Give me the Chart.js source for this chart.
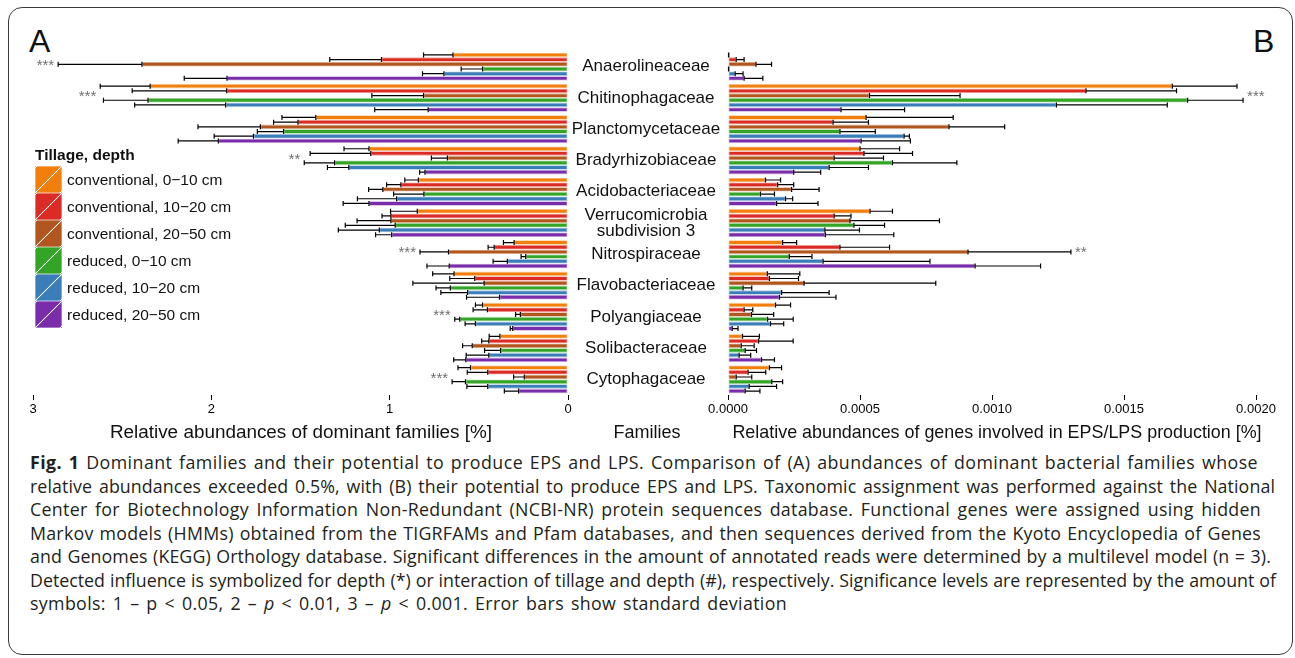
<!DOCTYPE html>
<html>
<head>
<meta charset="utf-8">
<script src="https://cdn.jsdelivr.net/npm/chart.js@4.4.1/dist/chart.umd.min.js"></script>
<style>
  body {
    margin: 0;
    width: 1295px;
    height: 658px;
    overflow: hidden;
    position: relative;
    background: #fff;
    font-family: "Liberation Sans", Arial, sans-serif;
    color: #111;
  }
  .frame {
    position: absolute;
    box-sizing: border-box;
    left: 8px; top: 7px; width: 1285px; height: 648px;
    border: 1.5px solid #3a3a3a;
    border-radius: 14px;
  }
  canvas { position: absolute; }
  .lbl {
    position: absolute;
    white-space: nowrap;
    transform: translate(-50%, -50%);
    font-size: 18px;
  }
  .panel { position: absolute; font-size: 32px; line-height: 32px; }
  #legend { position: absolute; left: 35px; top: 145px; }
  #legend .title { font-weight: bold; font-size: 15.5px; height: 21px; line-height: 20px; }
  .legend-row { height: 27px; display: flex; align-items: center; }
  .swatch { width: 27px; height: 27px; box-sizing: border-box; border: 1px solid rgba(255,255,255,0.35); }
  .legend-row span.txt { margin-left: 5px; font-size: 15.5px; }
  .caption {
    position: absolute;
    left: 30px; top: 451px;
    font-family: "Open Sans", sans-serif;
    font-size: 17.8px;
    line-height: 23.5px;
    color: #231f20;
    white-space: nowrap;
  }
  .caption div { text-align: justify; text-align-last: justify; }
</style>
</head>
<body>
<div class="frame"></div>
<div class="panel" style="left:29px; top:25px;">A</div>
<div class="panel" style="left:1253px; top:25px;">B</div>

<canvas id="left" width="580" height="400" style="left:0; top:40px;"></canvas>
<canvas id="right" width="735" height="400" style="left:560px; top:40px;"></canvas>

<div id="legend"><div class="title">Tillage, depth</div></div>

<div class="lbl" style="left:301px; top:432px; font-size:18.9px;">Relative abundances of dominant families [%]</div>
<div class="lbl" style="left:647px; top:432px;">Families</div>
<div class="lbl" style="left:997px; top:432px; font-size:17.9px;">Relative abundances of genes involved in EPS/LPS production [%]</div>

<div class="caption">
<div style="width:1228px; letter-spacing:0.45px;"><b>Fig. 1</b> Dominant families and their potential to produce EPS and LPS. Comparison of (A) abundances of dominant bacterial families whose</div>
<div style="width:1245px; letter-spacing:0.1px;">relative abundances exceeded 0.5%, with (B) their potential to produce EPS and LPS. Taxonomic assignment was performed against the National</div>
<div style="width:1231px; letter-spacing:0.3px;">Center for Biotechnology Information Non-Redundant (NCBI-NR) protein sequences database. Functional genes were assigned using hidden</div>
<div style="width:1231px; letter-spacing:0.25px;">Markov models (HMMs) obtained from the TIGRFAMs and Pfam databases, and then sequences derived from the Kyoto Encyclopedia of Genes</div>
<div style="width:1241px; letter-spacing:0.1px;">and Genomes (KEGG) Orthology database. Significant differences in the amount of annotated reads were determined by a multilevel model (n = 3).</div>
<div style="width:1246px;">Detected influence is symbolized for depth (*) or interaction of tillage and depth (#), respectively. Significance levels are represented by the amount of</div>
<div style="width:757px; letter-spacing:0.35px;">symbols: 1 – p &lt; 0.05, 2 – <i>p</i> &lt; 0.01, 3 – <i>p</i> &lt; 0.001. Error bars show standard deviation</div>
</div>

<script>
const families = [
  "Anaerolineaceae", "Chitinophagaceae", "Planctomycetaceae", "Bradyrhizobiaceae",
  "Acidobacteriaceae", ["Verrucomicrobia", "subdivision 3"], "Nitrospiraceae",
  "Flavobacteriaceae", "Polyangiaceae", "Solibacteraceae", "Cytophagaceae"
];

const seriesNames = [
  "conventional, 0\u221210 cm", "conventional, 10\u221220 cm", "conventional, 20\u221250 cm",
  "reduced, 0\u221210 cm", "reduced, 10\u221220 cm", "reduced, 20\u221250 cm"
];
const seriesColors = ["#f27f0c", "#dc2b24", "#b2561f", "#33a426", "#3b7db8", "#7a2daa"];
const seriesEdges = ["#f9c48e", "#f0a19c", "#ddb091", "#a6d89e", "#a9c6e0", "#c4a2dc"];

// (A) relative abundances of dominant families [%]
const abConv0_10  = [0.645, 2.343, 1.414, 1.116, 0.839, 0.845, 0.302, 0.639, 0.479, 0.382, 0.547];
const abConv10_20 = [1.046, 1.914, 1.514, 1.106, 0.937, 0.993, 0.414, 0.523, 0.452, 0.444, 0.450];
const abConv20_50 = [2.389, 0.810, 1.725, 0.676, 1.038, 0.993, 0.670, 0.470, 0.267, 0.537, 0.245];
const abRed0_10   = [0.479, 2.355, 1.595, 1.309, 0.808, 0.969, 0.237, 0.660, 0.607, 0.378, 0.575];
const abRed10_20  = [0.696, 1.920, 1.764, 1.229, 0.961, 1.058, 0.340, 0.563, 0.519, 0.444, 0.450];
const abRed20_50  = [1.912, 0.784, 1.961, 0.802, 1.116, 0.989, 0.666, 0.384, 0.310, 0.573, 0.277];

const sdAbConv0_10  = [0.165, 0.28, 0.19, 0.14, 0.076, 0.15, 0.06, 0.12, 0.04, 0.06, 0.07];
const sdAbConv10_20 = [0.29, 0.53, 0.137, 0.34, 0.08, 0.05, 0.034, 0.14, 0.08, 0.04, 0.115];
const sdAbConv20_50 = [0.47, 0.29, 0.35, 0.09, 0.08, 0.19, 0.16, 0.40, 0.027, 0.054, 0.06];
const sdAbRed0_10   = [0.12, 0.25, 0.147, 0.17, 0.17, 0.28, 0.026, 0.08, 0.028, 0.09, 0.075];
const sdAbRed10_20  = [0.12, 0.51, 0.22, 0.12, 0.22, 0.23, 0.08, 0.15, 0.058, 0.127, 0.117];
const sdAbRed20_50  = [0.24, 0.30, 0.225, 0.03, 0.145, 0.09, 0.125, 0.185, 0.014, 0.068, 0.08];

// (B) relative abundances of EPS/LPS genes [%]
const epsConv0_10  = [0.000002, 0.001683, 0.000523, 0.000500, 0.000142, 0.000538, 0.000207, 0.000149, 0.000180, 0.000055, 0.000157];
const epsConv10_20 = [0.000031, 0.001356, 0.000398, 0.000515, 0.000188, 0.000402, 0.000424, 0.000157, 0.000061, 0.000116, 0.000076];
const epsConv20_50 = [0.000106, 0.000536, 0.000837, 0.000402, 0.000241, 0.000462, 0.000909, 0.000288, 0.000089, 0.000050, 0.000031];
const epsRed0_10   = [0.000002, 0.001741, 0.000424, 0.000623, 0.000123, 0.000477, 0.000232, 0.000057, 0.000150, 0.000065, 0.000166];
const epsRed10_20  = [0.000027, 0.001244, 0.000667, 0.000383, 0.000218, 0.000367, 0.000360, 0.000203, 0.000161, 0.000042, 0.000080];
const epsRed20_50  = [0.000061, 0.000428, 0.000504, 0.000249, 0.000184, 0.000369, 0.000936, 0.000195, 0.000016, 0.000127, 0.000065];

const sdEpsConv0_10  = [0.000001, 0.000245, 0.000330, 0.000150, 0.000057, 0.000085, 0.000053, 0.000123, 0.000057, 0.000064, 0.000046];
const sdEpsConv10_20 = [0.000030, 0.000343, 0.000134, 0.000184, 0.000061, 0.000064, 0.000188, 0.000110, 0.000033, 0.000131, 0.000067];
const sdEpsConv20_50 = [0.000059, 0.000343, 0.000211, 0.000187, 0.000104, 0.000339, 0.000390, 0.000499, 0.000084, 0.000049, 0.000059];
const sdEpsRed0_10   = [0.000001, 0.000210, 0.000134, 0.000244, 0.000053, 0.000116, 0.000086, 0.000033, 0.000097, 0.000043, 0.000041];
const sdEpsRed10_20  = [0.000030, 0.000420, 0.000020, 0.000149, 0.000027, 0.000131, 0.000405, 0.000180, 0.000050, 0.000044, 0.000104];
const sdEpsRed20_50  = [0.000071, 0.000241, 0.000187, 0.000102, 0.000157, 0.000259, 0.000248, 0.000214, 0.000022, 0.000049, 0.000056];

// significance marks per family
const sigAbundance = ["***", "***", "", "**", "", "", "***", "", "***", "", "***"];
const sigEps       = ["", "***", "", "", "", "", "**", "", "", "", ""];

const xTicksLeft = [0, 1, 2, 3];
const xTicksRight = [0, 0.0005, 0.001, 0.0015, 0.002];

const FONT = "'Liberation Sans', Arial, sans-serif";

// error bars with caps on both ends
const errorBars = {
  id: "errorBars",
  afterDatasetsDraw(chart) {
    const ctx = chart.ctx;
    const xScale = chart.scales.x;
    ctx.save();
    ctx.strokeStyle = "#000";
    ctx.lineWidth = 1.2;
    chart.data.datasets.forEach((ds, i) => {
      chart.getDatasetMeta(i).data.forEach((bar, j) => {
        const x0 = bar.x;
        const x1 = xScale.getPixelForValue(ds.data[j] + ds.sd[j]);
        const y = bar.y;
        ctx.beginPath();
        ctx.moveTo(x0, y); ctx.lineTo(x1, y);
        ctx.moveTo(x0, y - 2.5); ctx.lineTo(x0, y + 2.5);
        ctx.moveTo(x1, y - 2.5); ctx.lineTo(x1, y + 2.5);
        ctx.stroke();
      });
    });
    ctx.restore();
  }
};

// stars next to the longest error bar of a family
const stars = {
  id: "stars",
  afterDraw(chart, args, opts) {
    const ctx = chart.ctx;
    const xScale = chart.scales.x;
    const yScale = chart.scales.y;
    ctx.save();
    ctx.fillStyle = "#707070";
    ctx.font = "15px " + FONT;
    ctx.textBaseline = "middle";
    ctx.textAlign = opts.side === "left" ? "right" : "left";
    opts.marks.forEach((m, i) => {
      if (!m) return;
      let maxEnd = 0;
      chart.data.datasets.forEach((ds) => {
        maxEnd = Math.max(maxEnd, ds.data[i] + ds.sd[i]);
      });
      const px = xScale.getPixelForValue(maxEnd);
      const x = opts.side === "left" ? px - 4 : px + 4;
      ctx.fillText(m, x, yScale.getPixelForValue(i) - 1);
    });
    ctx.restore();
  }
};

// family names in the middle column
const familyLabels = {
  id: "familyLabels",
  afterDraw(chart, args, opts) {
    const ctx = chart.ctx;
    const yScale = chart.scales.y;
    ctx.save();
    ctx.fillStyle = "#111";
    ctx.font = "17px " + FONT;
    ctx.textAlign = "center";
    ctx.textBaseline = "middle";
    families.forEach((f, i) => {
      const y = yScale.getPixelForValue(i);
      if (Array.isArray(f)) {
        ctx.fillText(f[0], opts.x, y - 8);
        ctx.fillText(f[1], opts.x, y + 8);
      } else {
        ctx.fillText(f, opts.x, y);
      }
    });
    ctx.restore();
  }
};

function makeDatasets(values, sds) {
  return values.map((v, i) => ({
    label: seriesNames[i],
    data: v,
    sd: sds[i],
    backgroundColor: seriesColors[i],
    borderColor: seriesEdges[i],
    borderWidth: 0.8,
    borderSkipped: false,
    barPercentage: 0.95,
    categoryPercentage: 0.9,
  }));
}

function makeChart(id, values, sds, xOpts, padding, plugins, pluginOpts) {
  return new Chart(document.getElementById(id), {
    type: "bar",
    data: { labels: families, datasets: makeDatasets(values, sds) },
    plugins: plugins,
    options: {
      indexAxis: "y",
      responsive: false,
      animation: false,
      devicePixelRatio: 1,
      layout: { padding: padding },
      scales: {
        y: { display: false },
        x: Object.assign({
          grid: { drawOnChartArea: false, drawTicks: true, tickLength: 5, tickColor: "#000" },
          border: { display: false },
          afterFit(s) { s.height = 45; s.paddingLeft = 0; s.paddingRight = 0; },
        }, xOpts),
      },
      plugins: Object.assign({ legend: { display: false }, tooltip: { enabled: false } }, pluginOpts),
    },
  });
}

makeChart(
  "left",
  [abConv0_10, abConv10_20, abConv20_50, abRed0_10, abRed10_20, abRed20_50],
  [sdAbConv0_10, sdAbConv10_20, sdAbConv20_50, sdAbRed0_10, sdAbRed10_20, sdAbRed20_50],
  {
    min: 0, max: 3, reverse: true,
    afterBuildTicks(s) { s.ticks = xTicksLeft.map((v) => ({ value: v })); },
    ticks: { color: "#000", padding: 2, font: { size: 13, family: FONT } },
  },
  { left: 33, right: 12, top: 11, bottom: 0 },
  [errorBars, stars],
  { stars: { marks: sigAbundance, side: "left" } }
);

makeChart(
  "right",
  [epsConv0_10, epsConv10_20, epsConv20_50, epsRed0_10, epsRed10_20, epsRed20_50],
  [sdEpsConv0_10, sdEpsConv10_20, sdEpsConv20_50, sdEpsRed0_10, sdEpsRed10_20, sdEpsRed20_50],
  {
    min: 0, max: 0.002,
    afterBuildTicks(s) { s.ticks = xTicksRight.map((v) => ({ value: v })); },
    ticks: {
      color: "#000", padding: 2, font: { size: 13, family: FONT },
      callback: (v) => Number(v).toFixed(4),
    },
  },
  { left: 168, right: 39, top: 11, bottom: 0 },
  [errorBars, stars, familyLabels],
  { stars: { marks: sigEps, side: "right" }, familyLabels: { x: 86 } }
);

// legend with diagonal white stroke in each swatch
function buildLegend() {
  const box = document.getElementById("legend");
  seriesNames.forEach((name, i) => {
    const c = seriesColors[i];
    const row = document.createElement("div");
    row.className = "legend-row";
    const sw = document.createElement("span");
    sw.className = "swatch";
    sw.style.background =
      `linear-gradient(to bottom right, ${c} calc(50% - 0.8px), rgba(255,255,255,0.85) 50%, ${c} calc(50% + 0.8px))`;
    const txt = document.createElement("span");
    txt.className = "txt";
    txt.textContent = name;
    row.appendChild(sw);
    row.appendChild(txt);
    box.appendChild(row);
  });
}
buildLegend();
</script>
</body>
</html>
